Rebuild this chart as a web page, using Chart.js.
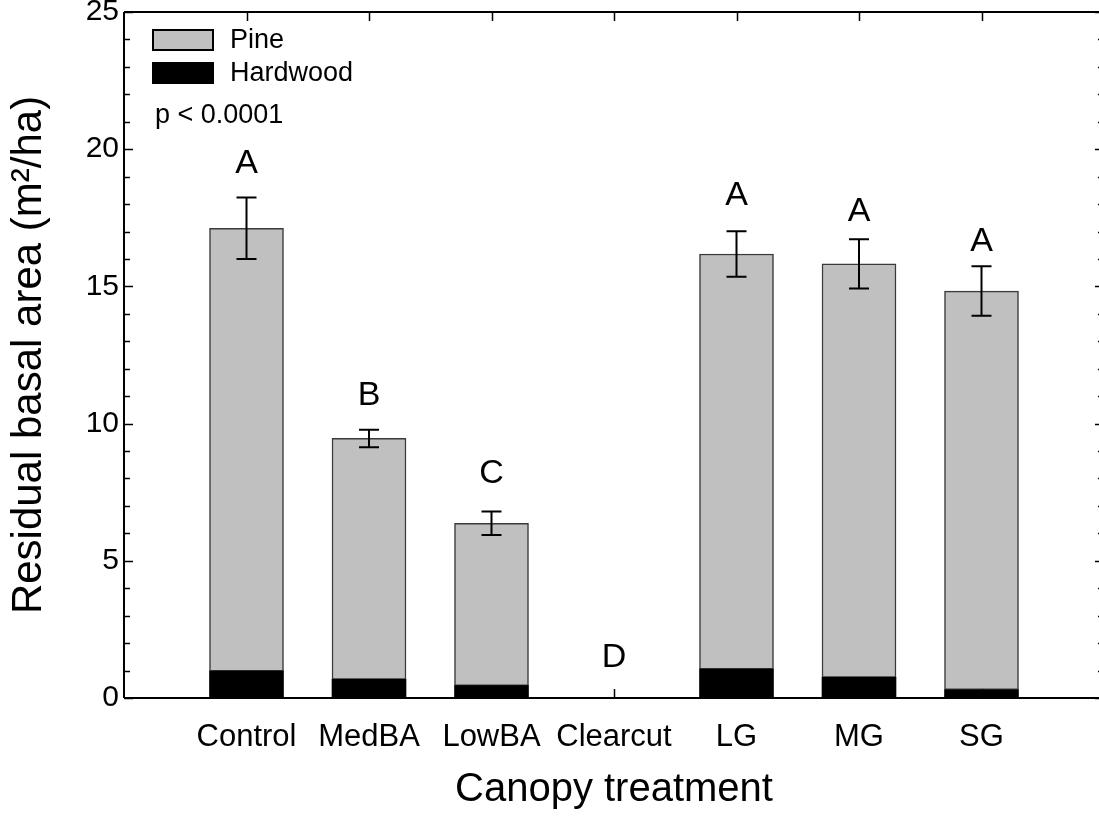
<!DOCTYPE html>
<html>
<head>
<meta charset="utf-8">
<script src="https://cdn.jsdelivr.net/npm/chart.js@4.4.1/dist/chart.umd.min.js"></script>
<style>
  html, body { margin: 0; padding: 0; background: #fff; overflow: hidden; }
  #wrap { width: 1106px; height: 817px; }
</style>
</head>
<body>
<div id="wrap"><canvas id="c" width="1106" height="817"></canvas></div>
<script>
// ---- data ----
const categories = ['Control', 'MedBA', 'LowBA', 'Clearcut', 'LG', 'MG', 'SG'];
const hardwood   = [0.98, 0.68, 0.45, 0, 1.05, 0.75, 0.30];
const pine       = [16.14, 8.78, 5.92, 0, 15.13, 15.07, 14.53];
const totalSE    = [1.12, 0.32, 0.43, 0, 0.83, 0.90, 0.90];
const letters    = ['A', 'B', 'C', 'D', 'A', 'A', 'A'];
const letterY    = [19.51, 11.04, 8.2, 1.49, 18.33, 17.77, 16.67];
const yTicks     = [0, 5, 10, 15, 20, 25];
const pText      = 'p < 0.0001';

const FONT = "'Liberation Sans', Arial, Helvetica, sans-serif";

const frame = {
  id: 'frame',
  afterDatasetsDraw(chart) {
    const ctx = chart.ctx, a = chart.chartArea;
    const x = chart.scales.x, y = chart.scales.y;
    ctx.save();
    // error bars
    ctx.strokeStyle = '#000';
    ctx.lineWidth = 2;
    categories.forEach((c, i) => {
      if (!totalSE[i]) return;
      const tot = pine[i] + hardwood[i];
      const px = x.getPixelForValue(i + 1);
      const yt = y.getPixelForValue(tot + totalSE[i]);
      const yb = y.getPixelForValue(tot - totalSE[i]);
      ctx.beginPath();
      ctx.moveTo(px, yt); ctx.lineTo(px, yb);
      ctx.moveTo(px - 10, yt); ctx.lineTo(px + 10, yt);
      ctx.moveTo(px - 10, yb); ctx.lineTo(px + 10, yb);
      ctx.stroke();
    });
    // letters
    ctx.fillStyle = '#000';
    ctx.font = '34px ' + FONT;
    ctx.textAlign = 'center';
    ctx.textBaseline = 'middle';
    letters.forEach((l, i) => {
      ctx.fillText(l, x.getPixelForValue(i + 1), y.getPixelForValue(letterY[i]) + 1);
    });
    // axes frame
    ctx.lineWidth = 2;
    ctx.beginPath();
    ctx.moveTo(a.left, a.top); ctx.lineTo(a.right, a.top);
    ctx.moveTo(a.left, a.top); ctx.lineTo(a.left, a.bottom);
    ctx.moveTo(a.left, a.bottom); ctx.lineTo(a.right, a.bottom);
    ctx.moveTo(a.right, a.top); ctx.lineTo(a.right, a.bottom);
    ctx.stroke();
    // y ticks (inside), minor each unit
    ctx.lineWidth = 1.5;
    ctx.beginPath();
    for (let v = 0; v <= 25; v++) {
      const py = Math.round(y.getPixelForValue(v)) + 0.5;
      const len = (v % 5 === 0) ? 9 : 6;
      ctx.moveTo(a.left, py); ctx.lineTo(a.left + len, py);
      ctx.moveTo(a.right, py); ctx.lineTo(a.right - len, py);
    }
    // x ticks (inside), top and bottom
    categories.forEach((c, i) => {
      const px = Math.round(x.getPixelForValue(i + 1)) + 0.5;
      ctx.moveTo(px, a.bottom); ctx.lineTo(px, a.bottom - 9);
      ctx.moveTo(px, a.top); ctx.lineTo(px, a.top + 9);
    });
    ctx.stroke();
    // legend
    const ds = chart.data.datasets;
    const order = [1, 0];
    ctx.font = '27px ' + FONT;
    ctx.textAlign = 'left';
    ctx.textBaseline = 'middle';
    order.forEach((di, k) => {
      const d = ds[di];
      const bx = a.left + 29, by = a.top + 18 + k * 33;
      ctx.fillStyle = d.backgroundColor;
      ctx.fillRect(bx, by, 60, 20);
      ctx.strokeStyle = '#000';
      ctx.lineWidth = 2;
      ctx.strokeRect(bx, by, 60, 20);
      ctx.fillStyle = '#000';
      ctx.fillText(d.label, a.left + 106, by + 11);
    });
    ctx.fillText(pText, a.left + 31, a.top + 104);
    ctx.restore();
  }
};

new Chart(document.getElementById('c'), {
  type: 'bar',
  data: {
    datasets: [
      {
        label: 'Hardwood',
        data: hardwood.map((v, i) => ({ x: i + 1, y: v })),
        backgroundColor: '#000000',
        borderColor: '#000000',
        borderWidth: 0,
        barThickness: 74
      },
      {
        label: 'Pine',
        data: pine.map((v, i) => ({ x: i + 1, y: v })),
        backgroundColor: '#c0c0c0',
        borderColor: '#3a3a3a',
        borderWidth: 1.5,
        borderSkipped: false,
        barThickness: 74
      }
    ]
  },
  options: {
    responsive: false,
    animation: false,
    layout: { padding: { top: 12, right: 2, left: 0, bottom: 0 } },
    plugins: { legend: { display: false }, tooltip: { enabled: false } },
    scales: {
      x: {
        type: 'linear',
        stacked: true,
        min: 0, max: 8,
        offset: false,
        border: { display: false },
        grid: { display: false, drawTicks: false },
        afterBuildTicks: s => { s.ticks = categories.map((c, i) => ({ value: i + 1 })); },
        ticks: {
          autoSkip: false,
          maxRotation: 0,
          padding: 21,
          color: '#000',
          font: { family: FONT, size: 31 },
          callback: v => categories[v - 1] ?? ''
        },
        title: {
          display: true,
          text: 'Canopy treatment',
          color: '#000',
          font: { family: FONT, size: 40 },
          padding: { top: 0, bottom: 3 }
        },
        afterFit: s => { s.height = 119; s.paddingLeft = 0; s.paddingRight = 0; }
      },
      y: {
        stacked: true,
        min: 0, max: 25,
        border: { display: false },
        grid: { display: false, drawTicks: false },
        afterBuildTicks: s => { s.ticks = yTicks.map(v => ({ value: v })); },
        ticks: {
          padding: 5,
          color: '#000',
          font: { family: FONT, size: 30 }
        },
        title: {
          display: true,
          text: 'Residual basal area (m²/ha)',
          color: '#000',
          font: { family: FONT, size: 42 },
          padding: { top: 4, bottom: 0 }
        },
        afterFit: s => { s.width = 124; s.paddingTop = 0; s.paddingBottom = 0; }
      }
    }
  },
  plugins: [frame]
});
</script>
</body>
</html>
